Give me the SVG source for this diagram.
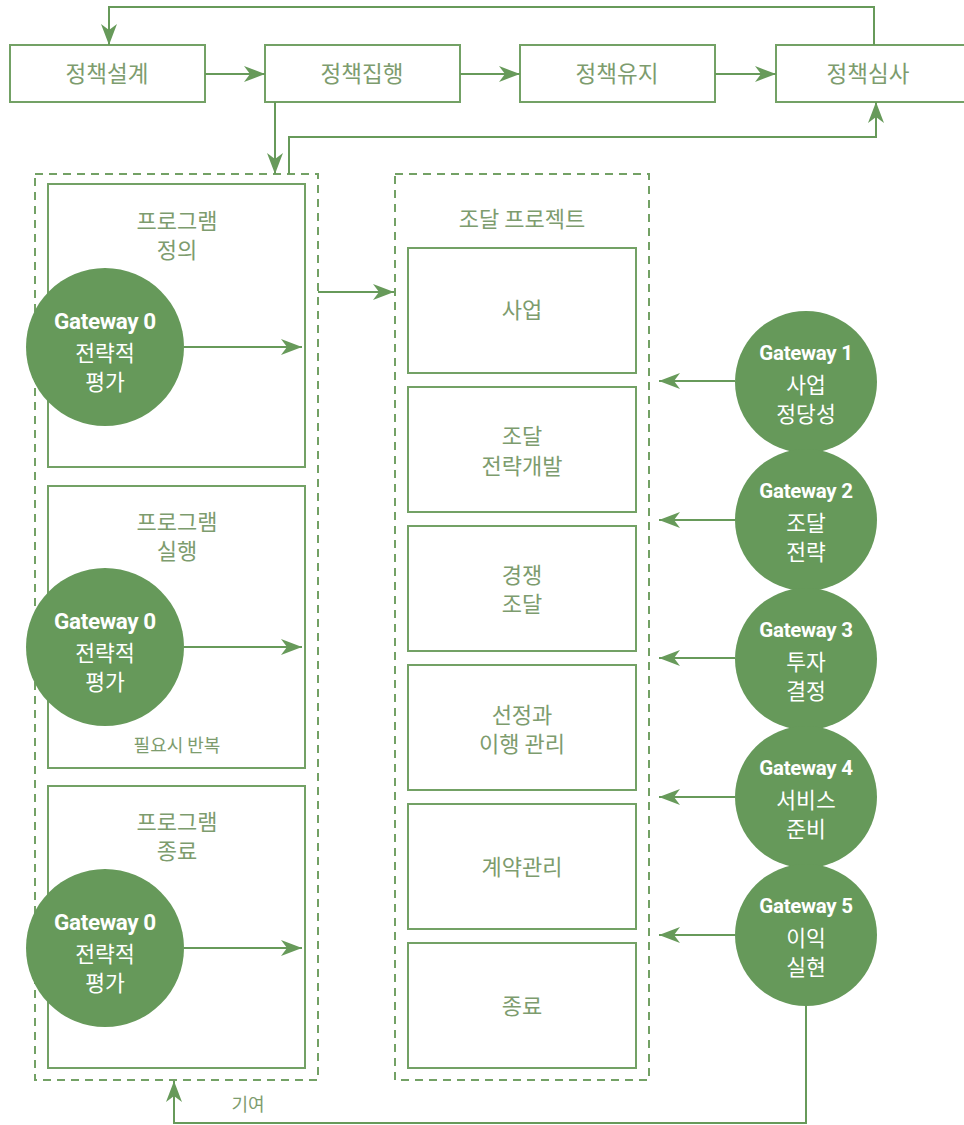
<svg xmlns="http://www.w3.org/2000/svg" width="964" height="1125" viewBox="0 0 964 1125">
<defs>
<marker id="ah" markerUnits="userSpaceOnUse" markerWidth="22" markerHeight="16" refX="21" refY="8" orient="auto">
<path d="M0,0 L21,8 L0,16 L6,8 z" fill="#679a5a"/>
</marker>
<style>
.box{fill:#fff;stroke:#73a165;stroke-width:2}
.dash{fill:none;stroke:#73a165;stroke-width:2;stroke-dasharray:8 6}
.ln{fill:none;stroke:#679a5a;stroke-width:2}
.circ{fill:#66995a}
.t{font-family:"Noto Sans CJK KR","Noto Sans",sans-serif;font-size:22px;fill:#7d9c6e;text-anchor:middle}
.tt{font-family:"Noto Sans CJK KR","Noto Sans",sans-serif;font-size:22.5px;fill:#7d9c6e;text-anchor:middle}
.gw{font-family:Roboto,"Liberation Sans",sans-serif;font-size:22.5px;font-weight:bold;fill:#fff;text-anchor:middle;letter-spacing:-0.4px}
.gwr{font-family:Roboto,"Liberation Sans",sans-serif;font-size:20.5px;font-weight:bold;fill:#fff;text-anchor:middle;letter-spacing:-0.3px}
.ct{font-family:"Noto Sans CJK KR","Noto Sans",sans-serif;font-size:21.5px;fill:#fff;text-anchor:middle}
.sm{font-family:"Noto Sans CJK KR","Noto Sans",sans-serif;font-size:18px;fill:#7d9c6e;text-anchor:middle}
</style>
</defs>
<rect width="964" height="1125" fill="#fff"/>

<g id="containers">
<rect class="dash" x="35" y="174" width="283" height="906"/>
<rect class="dash" x="395" y="174" width="254" height="906"/>
</g>

<g id="policy-design"><rect class="box" x="10" y="45" width="195" height="57"/><text class="tt" x="107" y="82">정책설계</text></g>
<g id="policy-exec"><rect class="box" x="265" y="45" width="195" height="57"/><text class="tt" x="362" y="82">정책집행</text></g>
<g id="policy-maint"><rect class="box" x="520" y="45" width="195" height="57"/><text class="tt" x="617" y="82">정책유지</text></g>
<g id="policy-review"><rect class="box" x="776" y="45" width="195" height="57"/><text class="tt" x="868" y="82">정책심사</text></g>

<g id="prog-def"><rect class="box" x="48" y="184" width="257" height="283"/><text class="t" x="177" y="229">프로그램</text><text class="t" x="177" y="258">정의</text></g>
<g id="prog-run"><rect class="box" x="48" y="486" width="257" height="282"/><text class="t" x="177" y="530">프로그램</text><text class="t" x="177" y="559">실행</text><text class="sm" x="177" y="752">필요시 반복</text></g>
<g id="prog-end"><rect class="box" x="48" y="786" width="257" height="282"/><text class="t" x="177" y="830">프로그램</text><text class="t" x="177" y="859">종료</text></g>

<g id="proc-title"><text class="t" x="522" y="227">조달 프로젝트</text></g>
<g id="p1"><rect class="box" x="408" y="248" width="228" height="125"/><text class="t" x="522" y="318">사업</text></g>
<g id="p2"><rect class="box" x="408" y="387" width="228" height="125"/><text class="t" x="522" y="444">조달</text><text class="t" x="522" y="474">전략개발</text></g>
<g id="p3"><rect class="box" x="408" y="526" width="228" height="125"/><text class="t" x="522" y="583">경쟁</text><text class="t" x="522" y="612">조달</text></g>
<g id="p4"><rect class="box" x="408" y="665" width="228" height="125"/><text class="t" x="522" y="723">선정과</text><text class="t" x="522" y="752">이행 관리</text></g>
<g id="p5"><rect class="box" x="408" y="804" width="228" height="125"/><text class="t" x="522" y="875">계약관리</text></g>
<g id="p6"><rect class="box" x="408" y="943" width="228" height="125"/><text class="t" x="522" y="1014">종료</text></g>

<g id="connectors">
<line class="ln" x1="205" y1="74" x2="265" y2="74" marker-end="url(#ah)"/>
<line class="ln" x1="460" y1="74" x2="520" y2="74" marker-end="url(#ah)"/>
<line class="ln" x1="715" y1="74" x2="776" y2="74" marker-end="url(#ah)"/>
<polyline class="ln" points="874,45 874,7 109,7 109,45" marker-end="url(#ah)"/>
<line class="ln" x1="275" y1="102" x2="275" y2="174" marker-end="url(#ah)"/>
<polyline class="ln" points="289,174 289,137 876,137 876,102" marker-end="url(#ah)"/>
<line class="ln" x1="318" y1="292" x2="394" y2="292" marker-end="url(#ah)"/>
<line class="ln" x1="184" y1="347" x2="302" y2="347" marker-end="url(#ah)"/>
<line class="ln" x1="184" y1="647" x2="302" y2="647" marker-end="url(#ah)"/>
<line class="ln" x1="184" y1="948" x2="302" y2="948" marker-end="url(#ah)"/>
<line class="ln" x1="735" y1="381" x2="659" y2="381" marker-end="url(#ah)"/>
<line class="ln" x1="735" y1="520" x2="659" y2="520" marker-end="url(#ah)"/>
<line class="ln" x1="735" y1="658" x2="659" y2="658" marker-end="url(#ah)"/>
<line class="ln" x1="735" y1="797" x2="659" y2="797" marker-end="url(#ah)"/>
<line class="ln" x1="735" y1="935" x2="659" y2="935" marker-end="url(#ah)"/>
<polyline class="ln" points="806,1006 806,1123 174,1123 174,1081" marker-end="url(#ah)"/>
<text class="sm" x="248" y="1111">기여</text>
</g>

<g id="gw0a"><circle class="circ" cx="105" cy="347" r="79"/><text class="gw" x="105" y="329">Gateway 0</text><text class="ct" x="105" y="361">전략적</text><text class="ct" x="105" y="390">평가</text></g>
<g id="gw0b"><circle class="circ" cx="105" cy="647" r="79"/><text class="gw" x="105" y="629">Gateway 0</text><text class="ct" x="105" y="661">전략적</text><text class="ct" x="105" y="690">평가</text></g>
<g id="gw0c"><circle class="circ" cx="105" cy="948" r="79"/><text class="gw" x="105" y="930">Gateway 0</text><text class="ct" x="105" y="962">전략적</text><text class="ct" x="105" y="991">평가</text></g>

<g id="gw1"><circle class="circ" cx="806" cy="382" r="71"/><text class="gwr" x="806" y="360">Gateway 1</text><text class="ct" x="806" y="393">사업</text><text class="ct" x="806" y="422">정당성</text></g>
<g id="gw2"><circle class="circ" cx="806" cy="520" r="71"/><text class="gwr" x="806" y="498">Gateway 2</text><text class="ct" x="806" y="531">조달</text><text class="ct" x="806" y="560">전략</text></g>
<g id="gw3"><circle class="circ" cx="806" cy="659" r="71"/><text class="gwr" x="806" y="637">Gateway 3</text><text class="ct" x="806" y="670">투자</text><text class="ct" x="806" y="699">결정</text></g>
<g id="gw4"><circle class="circ" cx="806" cy="797" r="71"/><text class="gwr" x="806" y="775">Gateway 4</text><text class="ct" x="806" y="808">서비스</text><text class="ct" x="806" y="837">준비</text></g>
<g id="gw5"><circle class="circ" cx="806" cy="935" r="71"/><text class="gwr" x="806" y="913">Gateway 5</text><text class="ct" x="806" y="946">이익</text><text class="ct" x="806" y="975">실현</text></g>
</svg>
